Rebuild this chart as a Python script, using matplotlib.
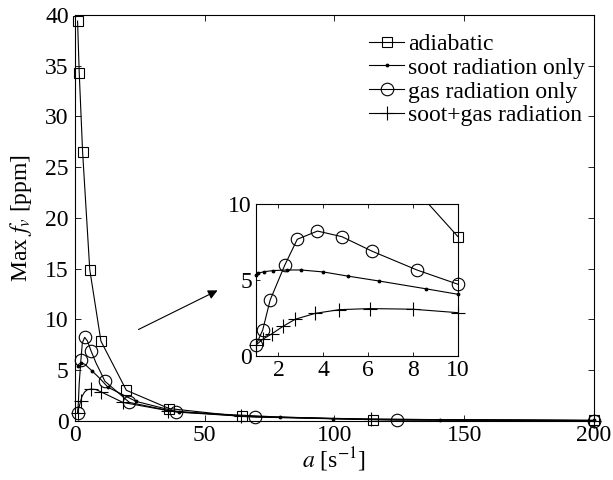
import matplotlib
matplotlib.use("Agg")
import matplotlib.pyplot as plt

plt.rcParams['font.family'] = ['Liberation Serif', 'DejaVu Serif']
plt.rcParams['mathtext.fontset'] = 'stix'

# ---- data (strain rate a [1/s], max soot volume fraction [ppm]) ----
adiab_a = [1.0, 1.64, 2.94, 5.7, 10.0, 19.8, 36.3, 64.4, 114.7, 200.0]
adiab_f = [39.4, 34.3, 26.5, 14.9, 7.85, 3.0, 1.2, 0.42, 0.12, 0.03]

soot_a = [1.0, 1.07, 1.37, 1.77, 2.37, 3.0, 4.0, 5.08, 6.5, 8.58, 10.0, 12.7, 23.6, 40.0, 79.0, 99.4, 140.6, 200.0]
soot_f = [5.3, 5.44, 5.55, 5.62, 5.66, 5.66, 5.53, 5.26, 4.93, 4.42, 4.06, 3.3, 1.9, 0.85, 0.36, 0.2, 0.1, 0.03]

gas_a = [1.0, 1.3, 1.63, 2.28, 2.84, 3.74, 4.83, 6.18, 8.17, 10.0, 11.5, 21.0, 38.9, 69.5, 124.0, 200.0]
gas_f = [0.72, 1.71, 3.68, 5.97, 7.68, 8.22, 7.85, 6.89, 5.66, 4.72, 3.9, 1.8, 0.86, 0.36, 0.05, 0.02]

sg_a = [1.0, 1.3, 1.7, 2.2, 2.75, 3.65, 4.72, 6.06, 7.98, 10.0, 18.5, 35.7, 64.0, 114.0, 200.0]
sg_f = [0.72, 1.1, 1.45, 1.95, 2.42, 2.81, 3.05, 3.12, 3.08, 2.85, 1.8, 1.0, 0.45, 0.15, 0.02]

labels = ['adiabatic', 'soot radiation only', 'gas radiation only', 'soot+gas radiation']

# marker subsets shown on the main axes
gas_main_marks = [0, 3, 5, 7, 10, 11, 12, 13, 14, 15]
soot_main_marks = [1, 4, 8, 11, 12, 13, 14, 15, 16, 17]
sg_main_marks = [0, 3, 7, 9, 10, 11, 12, 13, 14]

main_xticks = [0, 50, 100, 150, 200]
main_yticks = [0, 5, 10, 15, 20, 25, 30, 35, 40]
inset_xticks = [2, 4, 6, 8, 10]
inset_yticks = [0, 5, 10]
inset_xlim = (1, 10)
inset_ylim = (0, 10)

FS = 17
lw = 0.8
col = 'black'

styles = [
    dict(marker='s', ms=6.5, mfc='none', mec=col, mew=0.8),
    dict(marker='.', ms=3.5),
    dict(marker='o', ms=9, mfc='none', mec=col, mew=0.8),
    dict(marker='+', ms=10, mew=0.8),
]
series = [(adiab_a, adiab_f), (soot_a, soot_f), (gas_a, gas_f), (sg_a, sg_f)]
main_marks = [None, soot_main_marks, gas_main_marks, sg_main_marks]

fig = plt.figure(figsize=(6.13, 4.8), dpi=100)
ax = fig.add_axes([0.1223, 0.1235, 0.8467, 0.8452])

for (xa, ya), st, mk, lab in zip(series, styles, main_marks, labels):
    ax.plot(xa, ya, color=col, lw=lw, markevery=mk, clip_on=False, label=lab, **st)

ax.set_xlim(0, 200)
ax.set_ylim(0, 40)
ax.set_xticks(main_xticks)
ax.set_yticks(main_yticks)
ax.tick_params(direction='in', top=True, right=True, labelsize=FS, length=4, width=0.6, pad=3)
ax.tick_params(axis='y', pad=4.5)
for s in ax.spines.values():
    s.set_linewidth(0.8)
ax.set_xlabel('$a$ [s$^{-1}$]', fontsize=FS, labelpad=0)
ax.set_ylabel('Max $f_v$ [ppm]', fontsize=FS, labelpad=8)

leg = ax.legend(loc='upper right', bbox_to_anchor=(1.01, 0.99), frameon=False, fontsize=FS,
                handlelength=1.5, handletextpad=0.15, labelspacing=0.1, borderaxespad=0.2)

ax.annotate('', xy=(55.9, 12.97), xytext=(23.5, 8.87),
            arrowprops=dict(arrowstyle='-|>', color=col, lw=0.8, mutation_scale=14))

# ---- inset ----
axi = fig.add_axes([0.4176, 0.2583, 0.3295, 0.3167])
for (xa, ya), st in zip(series, styles):
    axi.plot(xa, ya, color=col, lw=lw)
    inside = [i for i, (x, y) in enumerate(zip(xa, ya))
              if inset_xlim[0] <= x <= inset_xlim[1] and inset_ylim[0] <= y <= inset_ylim[1]]
    axi.plot(xa, ya, color=col, ls='none', markevery=inside, clip_on=False, **st)
axi.set_xlim(*inset_xlim)
axi.set_ylim(*inset_ylim)
axi.set_xticks(inset_xticks)
axi.set_yticks(inset_yticks)
axi.tick_params(direction='in', top=True, right=True, labelsize=FS, length=3, width=0.6, pad=3)
for s in axi.spines.values():
    s.set_linewidth(0.8)

fig.savefig('out.png', dpi=100)
